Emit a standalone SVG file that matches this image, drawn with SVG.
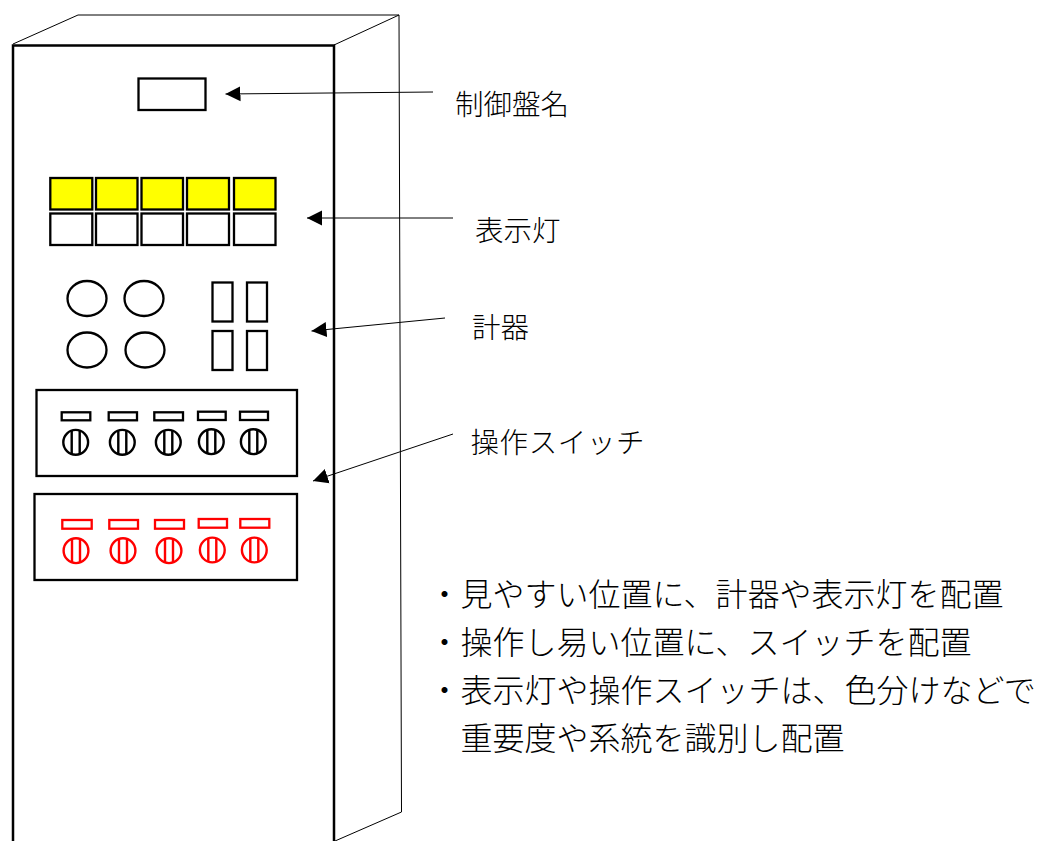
<svg xmlns="http://www.w3.org/2000/svg" xmlns:xlink="http://www.w3.org/1999/xlink" width="1039" height="841" viewBox="0 0 1039 841">
<style>
text{font-family:"Noto Sans CJK JP","Noto Sans CJK SC",sans-serif;font-weight:300;fill:#000}
.lab{font-size:28.5px}
.big{font-size:32px}
.thin{fill:none;stroke:#000;stroke-width:1}
.b{fill:none;stroke:#000;stroke-width:2.300}
.p{fill:#fff;stroke:#000;stroke-width:2.300}
.y{fill:#ff0;stroke:#000;stroke-width:2.300}
.r{fill:none;stroke:#f00;stroke-width:2.300}
.c{fill:none;stroke:#000;stroke-width:1}
</style>
<defs>
<marker id="ah" markerUnits="userSpaceOnUse" markerWidth="16" markerHeight="16" refX="15" refY="8" orient="auto"><path d="M0,0.5L15,8L0,15.5Z" fill="#000"/></marker>
<g id="kb"><circle r="12.400" fill="none" stroke="currentColor" stroke-width="2.400"/><path d="M-4,-12V12M4,-12V12" fill="none" stroke="currentColor" stroke-width="2.400"/></g>
</defs>
<rect width="1039" height="841" fill="#fff"/>
<g id="cabinet">
<path class="thin" d="M13,44L78,15H399L334,45M399,15L401.500,812L335,841"/>
<path d="M13,841V45.500H334V841" fill="none" stroke="#000" stroke-width="2.500"/>
</g>
<g id="nameplate"><rect class="p" x="138.500" y="78.500" width="67" height="31.500"/></g>
<g id="lamps">
<rect class="y" x="50.300" y="178" width="42" height="31.500"/><rect class="y" x="96" y="178" width="41.500" height="31.500"/><rect class="y" x="141.500" y="178" width="41.500" height="31.500"/><rect class="y" x="187" y="178" width="42" height="31.500"/><rect class="y" x="234" y="178" width="41.500" height="31.500"/>
<rect class="p" x="50.300" y="213.500" width="42" height="31.500"/><rect class="p" x="96" y="213.500" width="41.500" height="31.500"/><rect class="p" x="141.500" y="213.500" width="41.500" height="31.500"/><rect class="p" x="187" y="213.500" width="42" height="31.500"/><rect class="p" x="234" y="213.500" width="41.500" height="31.500"/>
</g>
<g id="meters">
<ellipse class="b" cx="87" cy="298.500" rx="19.500" ry="17.500"/><ellipse class="b" cx="144" cy="298.500" rx="19.500" ry="17.500"/><ellipse class="b" cx="87" cy="350" rx="19.500" ry="17.500"/><ellipse class="b" cx="145" cy="350" rx="19.500" ry="17.500"/>
<rect class="b" x="212.500" y="282.500" width="20" height="39"/><rect class="b" x="247" y="282.500" width="20" height="39"/><rect class="b" x="212.500" y="331" width="20" height="39"/><rect class="b" x="247" y="331" width="20" height="39"/>
</g>
<g id="switches-black" color="#000">
<rect class="b" x="36.500" y="390" width="260.500" height="86"/>
<rect class="b" x="61.700" y="412.300" width="28.600" height="8"/><rect class="b" x="108.700" y="412.300" width="28.300" height="8"/><rect class="b" x="154.300" y="412.300" width="28.700" height="8"/><rect class="b" x="198" y="411.700" width="27.700" height="8.300"/><rect class="b" x="240" y="411.700" width="28" height="8.300"/>
<use xlink:href="#kb" href="#kb" x="75.700" y="442.300"/><use xlink:href="#kb" href="#kb" x="122.300" y="442.300"/><use xlink:href="#kb" href="#kb" x="168.300" y="442.300"/><use xlink:href="#kb" href="#kb" x="211.300" y="441.700"/><use xlink:href="#kb" href="#kb" x="253.300" y="441.700"/>
</g>
<g id="switches-red" color="#f00">
<rect class="b" x="34.500" y="494" width="262.500" height="86"/>
<rect class="r" x="62.300" y="520" width="29.400" height="8.700"/><rect class="r" x="109.300" y="520" width="28.700" height="8.700"/><rect class="r" x="155" y="520" width="29" height="8.700"/><rect class="r" x="198.700" y="519" width="28.300" height="8.700"/><rect class="r" x="240.300" y="519" width="29" height="8.700"/>
<use xlink:href="#kb" href="#kb" x="76" y="550.700"/><use xlink:href="#kb" href="#kb" x="123" y="550.700"/><use xlink:href="#kb" href="#kb" x="169" y="550.700"/><use xlink:href="#kb" href="#kb" x="212.300" y="550"/><use xlink:href="#kb" href="#kb" x="254.300" y="550"/>
</g>
<g id="connectors">
<line class="c" x1="433" y1="92" x2="225.500" y2="94" marker-end="url(#ah)"/>
<line class="c" x1="453" y1="218" x2="307" y2="218" marker-end="url(#ah)"/>
<line class="c" x1="445" y1="318" x2="311.500" y2="331" marker-end="url(#ah)"/>
<line class="c" x1="453" y1="434" x2="313" y2="481" marker-end="url(#ah)"/>
</g>
<g id="labels">
<text class="lab" x="455" y="115">制御盤名</text>
<text class="lab" x="475" y="241">表示灯</text>
<text class="lab" x="472" y="338">計器</text>
<text class="lab" x="470.500" y="453" letter-spacing="0.600">操作スイッチ</text>
</g>
<g id="notes">
<text class="big" x="428.500" y="606">・見やすい位置に、計器や表示灯を配置</text>
<text class="big" x="428.500" y="654">・操作し易い位置に、スイッチを配置</text>
<text class="big" x="428.500" y="702">・表示灯や操作スイッチは、色分けなどで</text>
<text class="big" x="460.500" y="750">重要度や系統を識別し配置</text>
</g>
</svg>
